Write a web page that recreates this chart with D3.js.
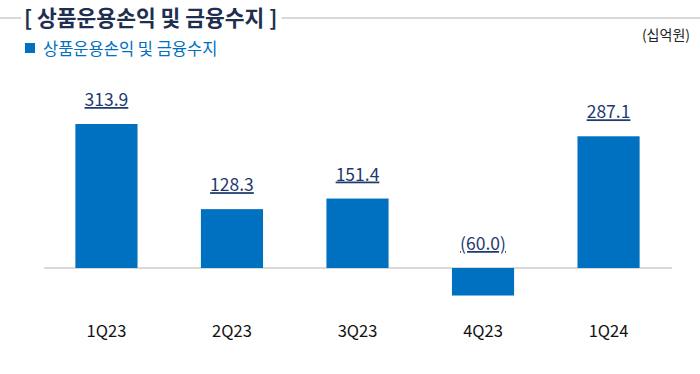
<!DOCTYPE html>
<html>
<head>
<meta charset="utf-8">
<script src="https://cdn.jsdelivr.net/npm/d3@7"></script>
<style>
  body { margin: 0; background: #fff; }
  svg { display: block; font-family: "Noto Sans CJK KR", "Noto Sans", sans-serif; }
</style>
</head>
<body>
<div id="chart"></div>
<script>
const quarters = ['1Q23', '2Q23', '3Q23', '4Q23', '1Q24']
const values = [313.9, 128.3, 151.4, -60.0, 287.1]
const titleText = '[ 상품운용손익 및 금융수지 ]'
const legendText = '상품운용손익 및 금융수지'
const unitText = '(십억원)'

const width = 700
const height = 374
const baseY = 268

const svg = d3.select('#chart').append('svg')
    .attr('width', width).attr('height', height)

// title with rule on either side
const title = svg.append('text')
    .attr('x', 24).attr('y', 26)
    .attr('font-size', 21.5).attr('font-weight', 700)
    .attr('fill', '#1f2f4f')
    .text(titleText)
const tw = title.node().getComputedTextLength()
svg.append('line').attr('x1', 0).attr('x2', 21).attr('y1', 18).attr('y2', 18)
    .attr('stroke', '#d9d9d9').attr('stroke-width', 2)
svg.append('line').attr('x1', 24 + tw + 4).attr('x2', width).attr('y1', 18).attr('y2', 18)
    .attr('stroke', '#d9d9d9').attr('stroke-width', 2)

// legend
svg.append('rect').attr('x', 25).attr('y', 43).attr('width', 10).attr('height', 10)
    .attr('fill', '#0070c0')
svg.append('text').attr('x', 43).attr('y', 55)
    .attr('font-size', 16.5).attr('fill', '#0070c0')
    .text(legendText)

svg.append('text').attr('x', 690).attr('y', 40)
    .attr('text-anchor', 'end').attr('font-size', 14).attr('fill', '#222')
    .text(unitText)

const x = d3.scaleBand().domain(quarters).range([44, 671]).paddingInner(0.505).paddingOuter(0.25)
const y = d3.scaleLinear().domain([0, 313.9]).range([baseY, 124])

svg.append('line').attr('x1', 44).attr('x2', 672).attr('y1', baseY).attr('y2', baseY)
    .attr('stroke', '#d9d9d9').attr('stroke-width', 2)

svg.selectAll('rect.bar').data(values).enter().append('rect')
    .attr('class', 'bar')
    .attr('x', (d, i) => x(quarters[i]))
    .attr('width', x.bandwidth())
    .attr('y', d => Math.min(y(d), y(0)))
    .attr('height', d => Math.abs(y(d) - y(0)))
    .attr('fill', '#0070c0')

const fmt = d => d < 0 ? '(' + Math.abs(d).toFixed(1) + ')' : d.toFixed(1)

svg.selectAll('text.val').data(values).enter().append('text')
    .attr('class', 'val')
    .attr('x', (d, i) => x(quarters[i]) + x.bandwidth() / 2)
    .attr('y', d => Math.min(y(d), y(0)) - 18)
    .attr('text-anchor', 'middle')
    .attr('font-size', 17.5)
    .attr('fill', '#1f3a6e')
    .attr('text-decoration', 'underline')
    .text(fmt)

svg.selectAll('text.cat').data(quarters).enter().append('text')
    .attr('class', 'cat')
    .attr('x', d => x(d) + x.bandwidth() / 2)
    .attr('y', 337)
    .attr('text-anchor', 'middle')
    .attr('font-size', 16.5)
    .attr('fill', '#111')
    .text(d => d)
</script>
</body>
</html>
